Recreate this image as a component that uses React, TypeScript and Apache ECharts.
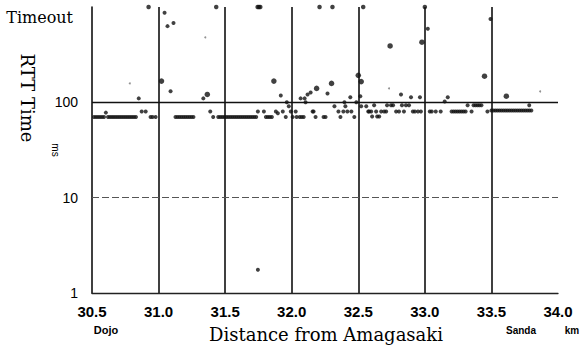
import React, { useEffect, useRef } from "react";
import * as echarts from "echarts";

// Distance (km) ticks
const xMin = 30.5;
const xMax = 34.0;
const xInterval = 0.5;
// RTT axis (ms, log scale); 1000 stands for "Timeout"
const yMin = 1;
const yMax = 1000;
const timeoutValue = 1000;
const refLines = [100, 10];

// Regular measurements [km, ms]
const rttPoints: [number, number][] = [
  // 30.5 - 31.0
  [30.515, 70], [30.53, 70], [30.545, 70], [30.56, 70], [30.575, 70], [30.59, 70], [30.604, 78],
  [30.62, 70], [30.635, 70], [30.65, 70], [30.665, 70], [30.68, 70], [30.695, 70], [30.71, 70],
  [30.725, 70], [30.74, 70], [30.755, 70], [30.77, 70], [30.785, 70], [30.8, 70], [30.815, 70], [30.83, 70],
  [30.851, 110], [30.873, 80], [30.903, 80], [30.94, 70], [30.955, 70], [30.978, 70],
  // 31.0 - 31.5
  [31.045, 870], [31.067, 630], [31.112, 680], [31.09, 131],
  [31.127, 70], [31.142, 70], [31.157, 70], [31.172, 70], [31.187, 70], [31.202, 70], [31.217, 70],
  [31.232, 70], [31.247, 70], [31.262, 70],
  [31.336, 110], [31.388, 80], [31.41, 70],
  [31.448, 70], [31.463, 70], [31.478, 70], [31.493, 70], [31.508, 70], [31.523, 70], [31.538, 70],
  [31.553, 70], [31.568, 70], [31.583, 70], [31.598, 70], [31.613, 70], [31.628, 70], [31.643, 70],
  [31.658, 70], [31.673, 70], [31.688, 70], [31.703, 70], [31.718, 70], [31.733, 70],
  // 31.5 - 32.0
  [31.746, 80], [31.746, 1.75], [31.791, 80], [31.806, 70], [31.821, 70], [31.836, 70], [31.851, 70],
  [31.881, 80], [31.896, 77], [31.918, 118], [31.933, 80], [31.955, 70], [31.963, 100], [31.978, 91], [31.993, 80],
  // 32.0 - 32.5
  [32.007, 70], [32.03, 80], [32.037, 70], [32.06, 70], [32.067, 110], [32.075, 70], [32.09, 70],
  [32.097, 110], [32.104, 100], [32.119, 121], [32.142, 127], [32.157, 80], [32.164, 80], [32.179, 70],
  [32.239, 70], [32.254, 70], [32.269, 124], [32.321, 91], [32.351, 80], [32.366, 70], [32.388, 80],
  [32.396, 100], [32.403, 91], [32.418, 80], [32.44, 113], [32.448, 80], [32.47, 70], [32.485, 100],
  // 32.5 - 33.0
  [32.515, 116], [32.522, 91], [32.56, 91], [32.575, 80], [32.582, 80], [32.597, 80], [32.604, 71],
  [32.619, 93], [32.634, 80], [32.642, 71], [32.657, 71], [32.672, 80], [32.694, 80], [32.709, 80],
  [32.716, 93], [32.746, 93], [32.761, 93], [32.784, 80], [32.806, 80], [32.821, 121], [32.828, 93],
  [32.843, 80], [32.858, 93], [32.881, 93], [32.896, 113], [32.91, 80], [32.925, 80], [32.948, 80],
  [32.963, 113], [32.97, 80], [33.022, 590],
  // 33.0 - 33.5
  [33.037, 80], [33.052, 80], [33.082, 80], [33.119, 80], [33.149, 102], [33.172, 113],
  [33.201, 80], [33.216, 80], [33.231, 80], [33.246, 80], [33.261, 80], [33.276, 80], [33.291, 80], [33.306, 80],
  [33.321, 93], [33.351, 80], [33.366, 93], [33.381, 93], [33.396, 93], [33.41, 93], [33.425, 93],
  [33.47, 80], [33.493, 750],
  // 33.5 - 34.0
  [33.5, 82], [33.515, 82], [33.53, 82], [33.545, 82], [33.56, 82], [33.575, 82], [33.59, 82],
  [33.605, 82], [33.62, 82], [33.635, 82], [33.65, 82], [33.665, 82], [33.68, 82], [33.695, 82],
  [33.71, 82], [33.725, 82], [33.74, 82], [33.755, 82], [33.77, 82], [33.785, 82], [33.8, 82],
  [33.784, 93],
];

// Larger (overlapping) measurements [km, ms]
const largePoints: [number, number][] = [
  [31.022, 167], [31.366, 121], [31.866, 167], [32.187, 140], [32.299, 158], [32.5, 192],
  [32.522, 165], [32.739, 390], [32.978, 427], [33.448, 188], [33.612, 116],
];

// Timeouts (km)
const timeoutKm = [30.925, 31.433, 31.744, 31.754, 31.764, 32.209, 32.306, 32.537, 33.0];

// Faint specks [km, ms]
const faintPoints: [number, number][] = [
  [30.784, 158], [31.351, 480], [32.731, 140], [33.866, 130],
];

export default function App() {
  const ref = useRef<HTMLDivElement>(null);
  useEffect(() => {
    if (!ref.current) return;
    const chart = echarts.init(ref.current, undefined, { renderer: "svg" });
    const serif = "DejaVu Serif";
    const sans = "Liberation Sans";
    chart.setOption({
      animation: false,
      backgroundColor: "#ffffff",
      grid: { left: 92, right: 25, top: 7, bottom: 53 },
      xAxis: {
        type: "value",
        min: xMin,
        max: xMax,
        interval: xInterval,
        axisLine: { show: true, lineStyle: { color: "#222", width: 1.3 } },
        axisTick: { show: false },
        axisLabel: {
          color: "#000",
          fontFamily: sans,
          fontWeight: "bold",
          fontSize: 15,
          margin: 11,
          formatter: (v: number) => v.toFixed(1),
        },
        splitLine: {
          show: true,
          showMinLine: false,
          showMaxLine: false,
          lineStyle: { color: "#000", width: 1.5 },
        },
      },
      yAxis: {
        type: "log",
        logBase: 10,
        min: yMin,
        max: yMax,
        axisLine: { show: true, lineStyle: { color: "#000", width: 1.5 } },
        axisTick: { show: false },
        splitLine: { show: false },
        axisLabel: {
          color: "#000",
          fontFamily: sans,
          fontSize: 14,
          margin: 14,
          formatter: (v: number) => (v >= timeoutValue ? "" : String(v)),
        },
      },
      graphic: [
        {
          type: "text",
          x: 73,
          y: 17,
          style: { text: "Timeout", fill: "#000", font: `16px "${serif}"`, align: "right", verticalAlign: "middle" },
        },
        {
          type: "text",
          x: 27,
          y: 98,
          rotation: -Math.PI / 2,
          style: { text: "RTT Time", fill: "#000", font: `18px "${serif}"`, align: "center", verticalAlign: "middle" },
        },
        {
          type: "text",
          x: 55,
          y: 150,
          rotation: -Math.PI / 2,
          style: { text: "ms", fill: "#000", font: `10px "${sans}"`, align: "center", verticalAlign: "middle" },
        },
        {
          type: "text",
          x: 326,
          y: 334,
          style: { text: "Distance from Amagasaki", fill: "#000", font: `18px "${serif}"`, align: "center", verticalAlign: "middle" },
        },
        {
          type: "text",
          x: 106,
          y: 330,
          style: { text: "Dojo", fill: "#000", font: `bold 11px "${sans}"`, align: "center", verticalAlign: "middle" },
        },
        {
          type: "text",
          x: 521,
          y: 330,
          style: { text: "Sanda", fill: "#000", font: `bold 10px "${sans}"`, align: "center", verticalAlign: "middle" },
        },
        {
          type: "text",
          x: 572,
          y: 330,
          style: { text: "km", fill: "#000", font: `bold 10px "${sans}"`, align: "center", verticalAlign: "middle" },
        },
      ],
      series: [
        {
          name: "RTT",
          type: "scatter",
          data: rttPoints,
          symbol: "circle",
          symbolSize: 4,
          itemStyle: { color: "#111" },
          z: 3,
          markLine: {
            silent: true,
            symbol: ["none", "none"],
            label: { show: false },
            data: [
              { yAxis: refLines[0], lineStyle: { color: "#111", width: 1.3, type: "solid" } },
              { yAxis: refLines[1], lineStyle: { color: "#555", width: 1, type: [7, 3] } },
            ],
          },
        },
        {
          name: "RTT large",
          type: "scatter",
          data: largePoints,
          symbol: "circle",
          symbolSize: 5.5,
          itemStyle: { color: "#111" },
          z: 3,
        },
        {
          name: "Timeout",
          type: "scatter",
          data: timeoutKm.map((k) => [k, timeoutValue]),
          symbol: "circle",
          symbolSize: 4.5,
          itemStyle: { color: "#111" },
          clip: false,
          z: 3,
        },
        {
          name: "Faint",
          type: "scatter",
          data: faintPoints,
          symbol: "circle",
          symbolSize: 2,
          itemStyle: { color: "#777" },
          z: 3,
        },
      ],
    });
    return () => chart.dispose();
  }, []);
  return (
    <div
      ref={ref}
      style={{ position: "absolute", left: 0, top: 0, width: 583, height: 346, background: "#fff" }}
    />
  );
}
